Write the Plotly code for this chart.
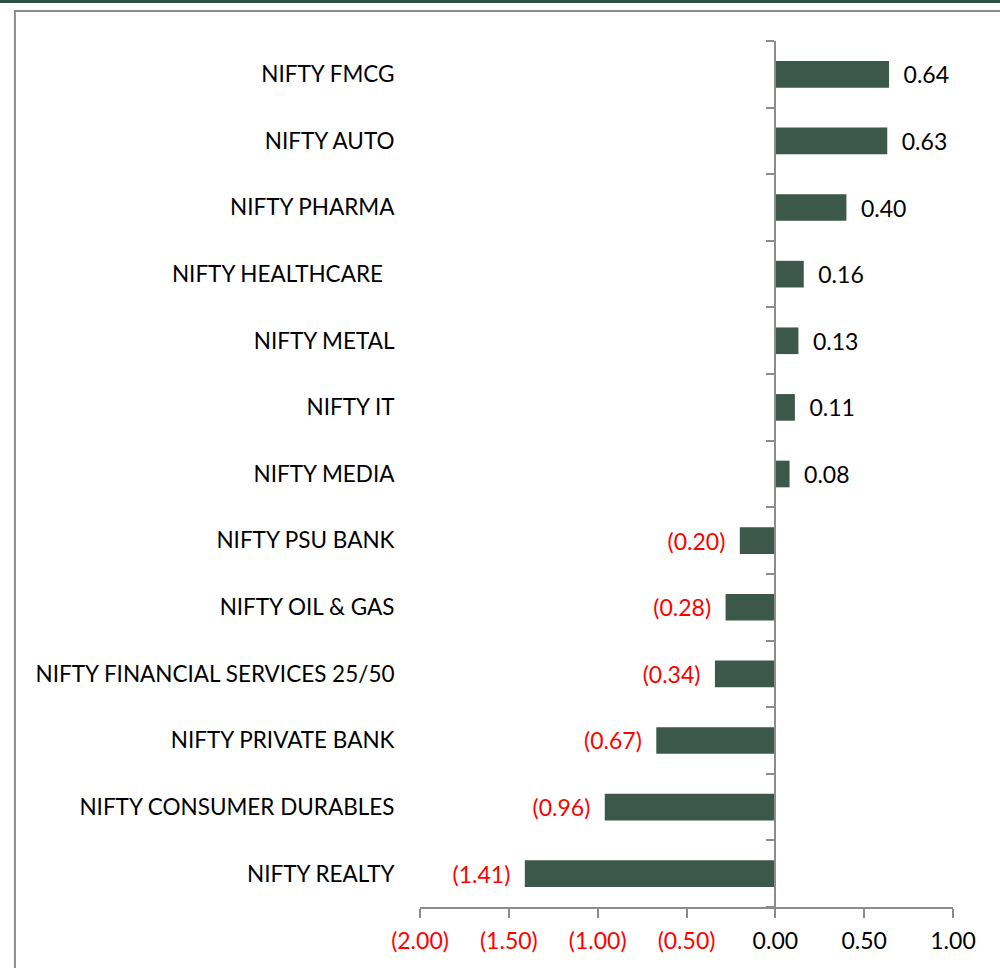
import plotly.graph_objects as go

categories = ["NIFTY FMCG", "NIFTY AUTO", "NIFTY PHARMA", "NIFTY HEALTHCARE\u00a0\u00a0",
              "NIFTY METAL", "NIFTY IT", "NIFTY MEDIA", "NIFTY PSU BANK", "NIFTY OIL & GAS",
              "NIFTY FINANCIAL SERVICES 25/50", "NIFTY PRIVATE BANK",
              "NIFTY CONSUMER DURABLES", "NIFTY REALTY"]
values = [0.64, 0.63, 0.40, 0.16, 0.13, 0.11, 0.08, -0.20, -0.28, -0.34, -0.67, -0.96, -1.41]
x_ticks = [-2.0, -1.5, -1.0, -0.5, 0.0, 0.5, 1.0]

BAR = "#3B584B"
GRAY = "#8C8C8C"
FONT = "Lato, 'Open Sans', sans-serif"
GAP = "\u2002"


def fmt(v):
    return f"({abs(v):.2f})" if v < 0 else f"{v:.2f}"


labels = [fmt(v) + GAP if v < 0 else GAP + fmt(v) for v in values]
label_colors = ["#FF0000" if v < 0 else "#000000" for v in values]
tick_text = [f"<span style='color:#FF0000'>{fmt(t)}</span>" if t < 0 else fmt(t) for t in x_ticks]

fig = go.Figure()
fig.add_trace(go.Bar(
    x=values, y=categories, orientation="h", width=0.4,
    marker=dict(color=BAR, line=dict(width=0)),
    text=labels, textposition="outside", cliponaxis=False, constraintext="none",
    textfont=dict(color=label_colors, size=23, family=FONT),
    hoverinfo="skip",
))
# invisible helper so the zero-position axis (with boundary ticks) is drawn
fig.add_trace(go.Scatter(x=[0], y=[0], yaxis="y2", mode="markers",
                         marker=dict(opacity=0), hoverinfo="skip", showlegend=False))

x0, x1 = -2.0, 1.0
zero_pos = (0 - x0) / (x1 - x0)

fig.update_layout(
    width=1000, height=968,
    margin=dict(l=420, r=47, t=41, b=61),
    paper_bgcolor="white", plot_bgcolor="white",
    showlegend=False,
    font=dict(family=FONT, size=22, color="#000000"),
    xaxis=dict(range=[x0, x1], tickmode="array", tickvals=x_ticks, ticktext=tick_text,
               showgrid=False, zeroline=False, showline=True, linecolor=GRAY, linewidth=2,
               ticks="outside", ticklen=9, tickwidth=2, tickcolor=GRAY,
               ticklabelstandoff=3,
               tickfont=dict(size=23, family=FONT)),
    yaxis=dict(type="category", categoryorder="array", categoryarray=categories,
               autorange="reversed", showgrid=False, zeroline=False, showline=False,
               ticks="outside", ticklen=20, tickcolor="rgba(0,0,0,0)",
               tickfont=dict(size=22.5, family=FONT)),
    yaxis2=dict(overlaying="y", anchor="free", position=zero_pos, side="left",
                range=[-0.5, len(categories) - 0.5], tickmode="linear", tick0=-0.5, dtick=1,
                showticklabels=False, showgrid=False, zeroline=False,
                showline=True, linecolor=GRAY, linewidth=2,
                ticks="outside", ticklen=8, tickwidth=2, tickcolor=GRAY),
    shapes=[
        dict(type="rect", xref="paper", yref="paper", x0=-0.76, x1=1.2, y0=-0.2, y1=1.0346,
             line=dict(color=GRAY, width=2), fillcolor="rgba(0,0,0,0)", layer="below"),
        dict(type="rect", xref="paper", yref="paper", x0=-0.9, x1=1.2, y0=1.0440, y1=1.06,
             line=dict(width=0), fillcolor="#2F4F44", layer="below"),
    ],
)

fig.write_html("out.html", config={"displayModeBar": False},
               post_script="document.body.style.margin='0';")
